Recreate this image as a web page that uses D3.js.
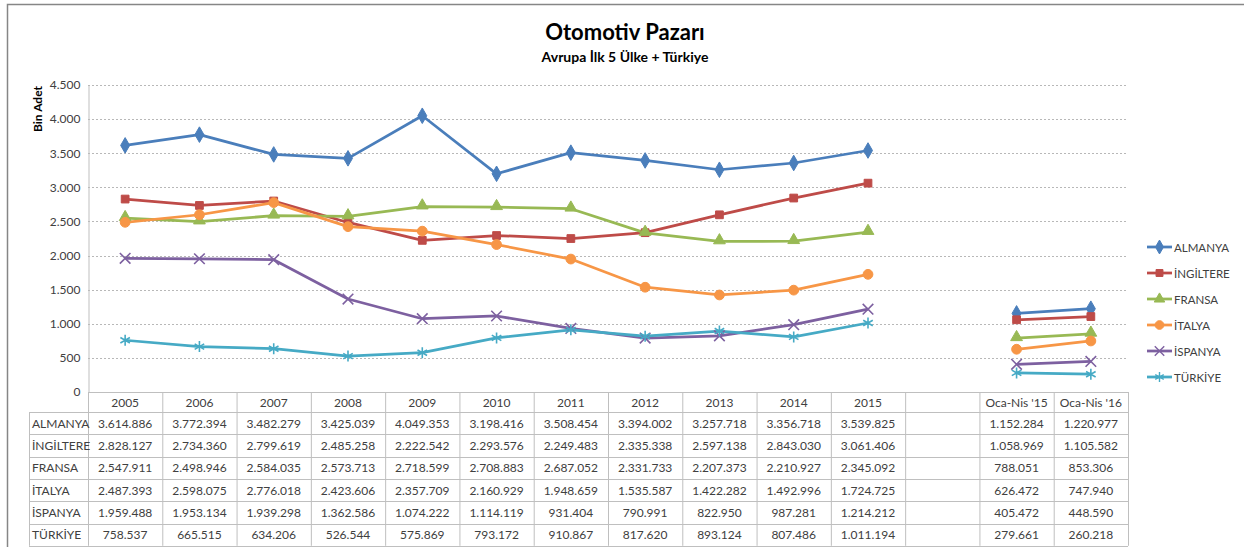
<!DOCTYPE html>
<html><head><meta charset="utf-8">
<script src="https://cdn.jsdelivr.net/npm/d3@7"></script>
<style>body{margin:0;background:#fff}svg{display:block}</style>
</head><body>
<svg id="c" width="1244" height="547"></svg>
<script>
const categories = ["2005","2006","2007","2008","2009","2010","2011","2012","2013","2014","2015","","Oca-Nis '15","Oca-Nis '16"];
const seriesNames = ["ALMANYA","İNGİLTERE","FRANSA","İTALYA","İSPANYA","TÜRKİYE"];
const almanya  = [3614886,3772394,3482279,3425039,4049353,3198416,3508454,3394002,3257718,3356718,3539825,null,1152284,1220977];
const ingiltere= [2828127,2734360,2799619,2485258,2222542,2293576,2249483,2335338,2597138,2843030,3061406,null,1058969,1105582];
const fransa   = [2547911,2498946,2584035,2573713,2718599,2708883,2687052,2331733,2207373,2210927,2345092,null,788051,853306];
const italya   = [2487393,2598075,2776018,2423606,2357709,2160929,1948659,1535587,1422282,1492996,1724725,null,626472,747940];
const ispanya  = [1959488,1953134,1939298,1362586,1074222,1114119,931404,790991,822950,987281,1214212,null,405472,448590];
const turkiye  = [758537,665515,634206,526544,575869,793172,910867,817620,893124,807486,1011194,null,279661,260218];
const yTicks = [0,500,1000,1500,2000,2500,3000,3500,4000,4500];
const title = "Otomotiv Pazarı";
const subtitle = "Avrupa İlk 5 Ülke + Türkiye";
const yTitle = "Bin Adet";

const seriesValues = [almanya, ingiltere, fransa, italya, ispanya, turkiye];
const colors = ["#4A7EBB","#BE4B48","#98B954","#F79646","#7D60A0","#46AAC5"];
const symbols = [d3.symbolDiamond, d3.symbolSquare, d3.symbolTriangle, d3.symbolCircle, d3.symbolX, d3.symbolAsterisk];
const symSizes = [70, 60, 60, 75, 75, 85];
const strokeSym = [false,false,false,false,true,true];

const loc = d3.formatLocale({decimal:",", thousands:".", grouping:[3], currency:["",""]});
const fmt = loc.format(",d");

const font = "Lato, 'Open Sans', sans-serif";
const txt = "#404040";
const svg = d3.select("#c").style("font-family", font);

// outer border
svg.append("rect").attr("x",7.5).attr("y",4.5).attr("width",1300).attr("height",600)
  .attr("fill","none").attr("stroke","#868686").attr("stroke-width",1.5);

const pLeft = 88, pRight = 1128, pTop = 85, pBottom = 392;
const x = d3.scaleBand().domain(d3.range(categories.length)).range([pLeft, pRight]);
const y = d3.scaleLinear().domain([0, 4500]).range([pBottom, pTop]);

// titles
svg.append("text").attr("x",625).attr("y",40).attr("text-anchor","middle")
  .attr("font-size",22).attr("font-weight","bold").attr("fill","#000").text(title);
svg.append("text").attr("x",625).attr("y",62).attr("text-anchor","middle")
  .attr("font-size",14).attr("font-weight","bold").attr("fill","#000").text(subtitle);
svg.append("text").attr("transform","translate(42,109) rotate(-90)").attr("text-anchor","middle")
  .attr("font-size",12).attr("font-weight","bold").attr("fill","#000").text(yTitle);

// gridlines
svg.append("g").selectAll("line").data(yTicks.filter(d=>d>0)).join("line")
  .attr("x1",pLeft).attr("x2",pRight).attr("y1",d=>Math.round(y(d))+0.5).attr("y2",d=>Math.round(y(d))+0.5)
  .attr("stroke","#b8b8b8").attr("stroke-width",1).attr("stroke-dasharray","2,2");

// y axis
const yAxis = d3.axisLeft(y).tickValues(yTicks).tickFormat(d=>fmt(d)).tickSize(0).tickPadding(8);
const ga = svg.append("g").attr("transform",`translate(${pLeft+0.5},0)`).call(yAxis);
ga.select(".domain").attr("stroke","#bfbfbf");
ga.selectAll("text").attr("font-size",12).attr("fill",txt).style("font-family",font);

// lines
const line = d3.line().defined(d=>d.v!=null).x(d=>x(d.i)+x.bandwidth()/2).y(d=>y(d.v/1000));
seriesValues.forEach((vals,s)=>{
  const pts = vals.map((v,i)=>({v,i}));
  svg.append("path").datum(pts).attr("d",line).attr("fill","none")
    .attr("stroke",colors[s]).attr("stroke-width",2.75).attr("stroke-linejoin","round");
});
seriesValues.forEach((vals,s)=>{
  const sym = d3.symbol().type(symbols[s]).size(symSizes[s]);
  svg.append("g").selectAll("path").data(vals.map((v,i)=>({v,i})).filter(d=>d.v!=null)).join("path")
    .attr("transform",d=>`translate(${x(d.i)+x.bandwidth()/2},${y(d.v/1000)})${s==2?" translate(0,-1)":""}`)
    .attr("d",sym)
    .attr("fill",strokeSym[s]?"none":colors[s])
    .attr("stroke",colors[s]).attr("stroke-width",strokeSym[s]?1.6:1);
});

// table
const grid = "#bfbfbf";
const headTop = pBottom, headBot = 412, rowH = 22.3;
const labelLeft = 29;
const tg = svg.append("g");
categories.forEach((c,i)=>{
  tg.append("line").attr("x1",x(i)+0.5).attr("x2",x(i)+0.5).attr("y1",headTop).attr("y2",headBot+rowH*6)
    .attr("stroke",grid);
  tg.append("text").attr("x",x(i)+x.bandwidth()/2).attr("y",headTop+15).attr("text-anchor","middle")
    .attr("font-size",12).attr("fill",txt).text(c);
});
tg.append("line").attr("x1",pRight+0.5).attr("x2",pRight+0.5).attr("y1",headTop).attr("y2",headBot+rowH*6).attr("stroke",grid);
tg.append("line").attr("x1",pLeft).attr("x2",pRight).attr("y1",headTop+0.5).attr("y2",headTop+0.5).attr("stroke",grid);
tg.append("line").attr("x1",labelLeft+0.5).attr("x2",labelLeft+0.5).attr("y1",headBot).attr("y2",headBot+rowH*6).attr("stroke",grid);
for(let r=0;r<=6;r++){
  const yy = Math.round(headBot+r*rowH)+0.5;
  tg.append("line").attr("x1",labelLeft).attr("x2",pRight).attr("y1",yy).attr("y2",yy).attr("stroke",grid);
}
seriesNames.forEach((n,r)=>{
  const cy = headBot + r*rowH + rowH/2 + 4.5;
  tg.append("text").attr("x",labelLeft+3).attr("y",cy).attr("font-size",12).attr("fill",txt).text(n);
  seriesValues[r].forEach((v,i)=>{
    if(v==null) return;
    tg.append("text").attr("x",x(i)+x.bandwidth()/2).attr("y",cy).attr("text-anchor","middle")
      .attr("font-size",12).attr("fill",txt).text(fmt(v));
  });
});

// legend
const lg = svg.append("g");
seriesNames.forEach((n,s)=>{
  const ly = 247 + s*26;
  lg.append("line").attr("x1",1147).attr("x2",1172).attr("y1",ly).attr("y2",ly)
    .attr("stroke",colors[s]).attr("stroke-width",2.75);
  lg.append("path").attr("transform",`translate(1159.5,${ly})`).attr("d",d3.symbol().type(symbols[s]).size(symSizes[s]*0.8))
    .attr("fill",strokeSym[s]?"none":colors[s]).attr("stroke",colors[s]).attr("stroke-width",strokeSym[s]?1.4:1);
  lg.append("text").attr("x",1174).attr("y",ly+4.5).attr("font-size",11.5).attr("fill",txt).text(n);
});
</script>
</body></html>
